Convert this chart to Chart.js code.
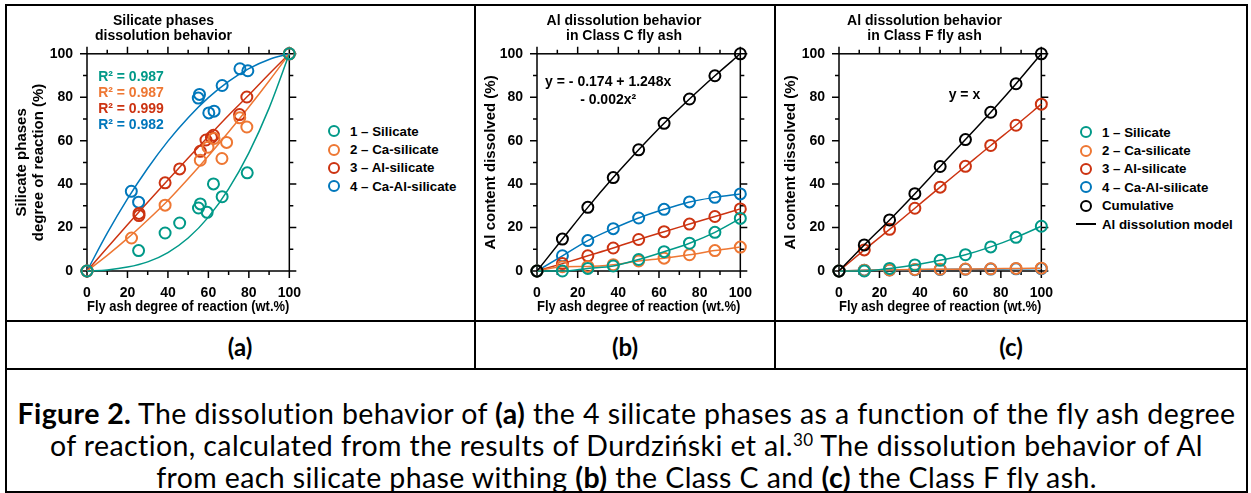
<!DOCTYPE html>
<html>
<head>
<meta charset="utf-8">
<script src="https://cdn.jsdelivr.net/npm/chart.js@4.4.0/dist/chart.umd.min.js"></script>
<style>
  body { margin: 0; background: #fff; width: 1251px; height: 493px; position: relative; overflow: hidden; }
  canvas { position: absolute; }
  .rule { position: absolute; background: #000; }
  .legend { position: absolute; font: bold 13.3px "Liberation Sans", Arial, sans-serif; color: #000; }
  .legend .item { height: 18.4px; display: flex; align-items: center; white-space: nowrap; }
  .legend .dot { box-sizing: border-box; width: 12px; height: 12px; border: 2px solid; border-radius: 50%; margin-right: 10px; }
  .legend .dash { width: 20px; height: 0; border-top: 2px solid #000; margin-left: -4px; margin-right: 6px; }
  .panel-label { position: absolute; top: 330px; width: 200px; text-align: center; font: bold 24px Lato, sans-serif; line-height: 34px; }
  .caption { position: absolute; left: 7px; width: 1239px; top: 397px; text-align: center;
             font-family: Lato, sans-serif; font-size: 28.5px; letter-spacing: 0.4px; line-height: 32px; white-space: nowrap; }
  .caption sup { font-size: 17px; line-height: 0; }
</style>
</head>
<body>

<div class="rule" style="left:5px;top:4px;width:1243px;height:2px"></div>
<div class="rule" style="left:5px;top:4px;width:2px;height:489px"></div>
<div class="rule" style="left:1246px;top:4px;width:2px;height:489px"></div>
<div class="rule" style="left:5px;top:491px;width:1243px;height:2px"></div>
<div class="rule" style="left:5px;top:320px;width:1243px;height:2px"></div>
<div class="rule" style="left:5px;top:368px;width:1243px;height:2px"></div>
<div class="rule" style="left:474px;top:4px;width:2px;height:366px"></div>
<div class="rule" style="left:774px;top:4px;width:2px;height:366px"></div>

<canvas id="chartA" width="303" height="314" style="left:12px;top:6px"></canvas>
<canvas id="chartB" width="284" height="314" style="left:482px;top:6px"></canvas>
<canvas id="chartC" width="285" height="314" style="left:782px;top:6px"></canvas>

<div class="legend" id="legendA" style="left:328px;top:122px"></div>
<div class="legend" id="legendC" style="left:1080px;top:123px"></div>

<div class="panel-label" style="left:140px">(a)</div>
<div class="panel-label" style="left:525px">(b)</div>
<div class="panel-label" style="left:911px">(c)</div>

<div class="caption">
  <b>Figure 2.</b> The dissolution behavior of <b>(a)</b> the 4 silicate phases as a function of the fly ash degree<br>
  of reaction, calculated from the results of Durdziński et al.<sup>30</sup> The dissolution behavior of Al<br>
  from each silicate phase withing <b>(b)</b> the Class C and <b>(c)</b> the Class F fly ash.
</div>

<script>
const seriesNames = ['1 – Silicate', '2 – Ca-silicate', '3 – Al-silicate', '4 – Ca-Al-silicate'];
const seriesColors = ['#009988', '#EE7733', '#CC3311', '#0077BB'];

// (a) measured points for each silicate phase
const silicateX = [0, 25.5, 38.6, 45.8, 55.1, 56.0, 59.4, 62.5, 66.8, 79.2, 100];
const silicateY = [0, 9.4, 17.5, 22.1, 29.0, 30.9, 27.0, 40.1, 34.2, 45.2, 100];
const caSilicateX = [0, 22.0, 38.6, 56.0, 59.8, 62.8, 66.7, 69.0, 75.5, 79.0, 100];
const caSilicateY = [0, 15.2, 30.3, 51.0, 57.0, 61.0, 51.8, 59.2, 70.5, 66.3, 100];
const alSilicateX = [0, 25.7, 25.7, 38.6, 45.8, 56.0, 58.8, 61.5, 62.5, 75.4, 79.0, 100];
const alSilicateY = [0, 25.5, 26.5, 40.6, 47.0, 55.1, 60.3, 61.5, 62.5, 72.0, 80.1, 100];
const caAlSilicateX = [0, 21.9, 25.5, 55.0, 55.6, 60.2, 62.8, 66.8, 75.6, 79.5, 100];
const caAlSilicateY = [0, 36.7, 31.7, 79.6, 81.3, 72.8, 73.6, 85.4, 93.1, 92.2, 100];

// (a) fitted curves
const fitX = [0, 10, 20, 30, 40, 50, 60, 70, 80, 90, 100];
const silicateFit = [0, 0.5, 1.8, 4.2, 8.5, 15.2, 24.8, 37.8, 54.4, 75.0, 100];
const caSilicateFit = [0, 7.2, 15.0, 23.5, 32.5, 42.5, 53.0, 64.0, 75.5, 87.5, 100];
const alSilicateFit = [0, 10.7, 21.3, 31.7, 41.9, 52.0, 61.9, 71.7, 81.0, 90.7, 100];
const caAlSilicateFit = [0, 17.4, 33.2, 47.3, 59.8, 70.6, 79.8, 87.3, 93.2, 97.4, 100];
const r2Labels = ['R² = 0.987', 'R² = 0.987', 'R² = 0.999', 'R² = 0.982'];

// (b) and (c) Al dissolved vs fly ash degree of reaction
const stepX = [0, 12.5, 25, 37.5, 50, 62.5, 75, 87.5, 100];
const classCSilicate = [0, 0, 1.2, 2.3, 5.3, 8.9, 12.8, 17.8, 24.2];
const classCCaSilicate = [0, 2.0, 2.1, 2.9, 4.6, 5.9, 7.5, 9.4, 11.0];
const classCAlSilicate = [0, 3.4, 7.0, 10.6, 14.5, 18.1, 21.6, 25.1, 28.6];
const classCCaAlSilicate = [0, 7.0, 14.0, 19.5, 24.4, 28.4, 31.8, 33.9, 35.5];
const classCCumulative = [0, 14.7, 29.3, 43.0, 55.8, 68.0, 79.2, 89.9, 100];
const classFSilicate = [0, 0, 1.2, 2.8, 4.9, 7.5, 11.1, 15.5, 20.6];
const classFCaSilicate = [0, 0.3, 0.5, 0.7, 0.8, 0.9, 1.0, 1.2, 1.3];
const classFAlSilicate = [0, 9.7, 19.2, 28.9, 38.6, 48.2, 57.8, 67.1, 76.8];
const classFCaAlSilicate = [0, 0.4, 0.5, 0.6, 0.7, 0.8, 0.9, 1.0, 1.1];
const classFCumulative = [0, 12.0, 23.5, 35.6, 48.1, 60.5, 73.1, 86.2, 100];

const FONT = '"Liberation Sans", Arial, sans-serif';
Chart.defaults.font.family = FONT;
Chart.defaults.font.size = 14;
Chart.defaults.font.weight = 'bold';
Chart.defaults.color = '#000';

function pairs(xs, ys) {
  return xs.map((x, i) => ({ x: x, y: ys[i] }));
}

function pointSet(label, xs, ys, color, withLine) {
  return {
    label: label,
    data: pairs(xs, ys),
    showLine: withLine,
    borderColor: color,
    borderWidth: 1.5,
    cubicInterpolationMode: 'monotone',
    pointRadius: 5.5,
    pointBorderWidth: 2,
    pointBackgroundColor: 'rgba(0,0,0,0)',
    pointBorderColor: color,
    clip: false
  };
}

function fitSet(xs, ys, color) {
  return {
    data: pairs(xs, ys),
    showLine: true,
    borderColor: color,
    borderWidth: 1.5,
    cubicInterpolationMode: 'monotone',
    pointRadius: 0,
    clip: false
  };
}

// box around the plot with small ticks every 10 on all four sides
const frameTicks = {
  id: 'frameTicks',
  beforeDatasetsDraw(chart) {
    const { ctx, chartArea: a } = chart;
    const xs = chart.scales.x, ys = chart.scales.y;
    ctx.save();
    ctx.strokeStyle = '#000';
    ctx.lineWidth = 1.5;
    ctx.strokeRect(a.left, a.top, a.right - a.left, a.bottom - a.top);
    ctx.beginPath();
    for (let v = 0; v <= 100; v += 10) {
      const len = v % 20 === 0 ? 7 : 4;
      const px = xs.getPixelForValue(v), py = ys.getPixelForValue(v);
      ctx.moveTo(px, a.bottom); ctx.lineTo(px, a.bottom + len);
      ctx.moveTo(px, a.top); ctx.lineTo(px, a.top - len);
      ctx.moveTo(a.left, py); ctx.lineTo(a.left - len, py);
      ctx.moveTo(a.right, py); ctx.lineTo(a.right + len, py);
    }
    ctx.stroke();
    ctx.restore();
  }
};

// text notes placed in data coordinates
const notes = {
  id: 'notes',
  afterDatasetsDraw(chart, args, opts) {
    const { ctx } = chart;
    const xs = chart.scales.x, ys = chart.scales.y;
    ctx.save();
    ctx.textBaseline = 'middle';
    (opts.items || []).forEach(n => {
      ctx.font = 'bold ' + (n.size || 14) + 'px ' + FONT;
      ctx.fillStyle = n.color || '#000';
      ctx.textAlign = n.align || 'center';
      ctx.fillText(n.text, xs.getPixelForValue(n.x), ys.getPixelForValue(n.y));
    });
    ctx.restore();
  }
};

function makeChart(id, title, yTitle, yTitlePad, yWidth, datasets, noteItems) {
  return new Chart(document.getElementById(id), {
    type: 'scatter',
    data: { datasets: datasets },
    options: {
      responsive: false,
      animation: false,
      devicePixelRatio: 1,
      plugins: {
        legend: { display: false },
        tooltip: { enabled: false },
        title: { display: true, text: title, color: '#000',
                 font: { size: 14, weight: 'bold', lineHeight: 1.1 },
                 padding: { top: 7, bottom: 10 } },
        notes: { items: noteItems }
      },
      scales: {
        x: {
          type: 'linear', min: 0, max: 100,
          grid: { display: false, drawTicks: false },
          border: { display: false },
          ticks: { stepSize: 20, padding: 14, color: '#000', font: { size: 14, weight: 'bold' } },
          title: { display: true, text: 'Fly ash degree of reaction (wt.%)', color: '#000',
                   font: { size: 15, weight: 'bold', lineHeight: 1.1 }, padding: { top: 0, bottom: 5 } },
          afterFit: s => { s.height = 49; }
        },
        y: {
          type: 'linear', min: 0, max: 100,
          grid: { display: false, drawTicks: false },
          border: { display: false },
          ticks: { stepSize: 20, padding: 14, color: '#000', font: { size: 14, weight: 'bold' } },
          title: { display: true, text: yTitle, color: '#000',
                   font: { size: 15, weight: 'bold', lineHeight: 1.1 }, padding: { top: yTitlePad, bottom: 0 } },
          afterFit: s => { s.width = yWidth; }
        }
      }
    },
    plugins: [frameTicks, notes]
  });
}

// (a)
const phaseX = [silicateX, caSilicateX, alSilicateX, caAlSilicateX];
const phaseY = [silicateY, caSilicateY, alSilicateY, caAlSilicateY];
const phaseFit = [silicateFit, caSilicateFit, alSilicateFit, caAlSilicateFit];
const setsA = [];
seriesNames.forEach((name, i) => setsA.push(pointSet(name, phaseX[i], phaseY[i], seriesColors[i], false)));
seriesNames.forEach((name, i) => setsA.push(fitSet(fitX, phaseFit[i], seriesColors[i])));
const r2Y = [89.4, 81.8, 74.4, 67.0];
makeChart('chartA', ['Silicate phases', 'dissolution behavior'],
  ['Silicate phases', 'degree of reaction (%)'], 2, 75, setsA,
  r2Labels.map((t, i) => ({ text: t, x: 5.5, y: r2Y[i], color: seriesColors[i], align: 'left', size: 14 })));

// (b)
const classC = [classCSilicate, classCCaSilicate, classCAlSilicate, classCCaAlSilicate];
const setsB = [pointSet('Cumulative', stepX, classCCumulative, '#000', true)];
seriesNames.forEach((name, i) => setsB.push(pointSet(name, stepX, classC[i], seriesColors[i], true)));
makeChart('chartB', ['Al dissolution behavior', 'in Class C fly ash'],
  'Al content dissolved (%)', 1, 55, setsB,
  [{ text: 'y = - 0.174 + 1.248x', x: 35, y: 87.1 }, { text: '- 0.002x²', x: 35, y: 78.8 }]);

// (c)
const classF = [classFSilicate, classFCaSilicate, classFAlSilicate, classFCaAlSilicate];
const setsC = [pointSet('Cumulative', stepX, classFCumulative, '#000', true)];
seriesNames.forEach((name, i) => setsC.push(pointSet(name, stepX, classF[i], seriesColors[i], true)));
makeChart('chartC', ['Al dissolution behavior', 'in Class F fly ash'],
  'Al content dissolved (%)', 1, 57, setsC,
  [{ text: 'y = x', x: 62, y: 81.1 }]);

// legends built from the series lists
function buildLegend(el, names, colors, extras) {
  names.forEach((n, i) => {
    el.insertAdjacentHTML('beforeend',
      '<div class="item"><span class="dot" style="border-color:' + colors[i] + '"></span>' + n + '</div>');
  });
  (extras || []).forEach(e => el.insertAdjacentHTML('beforeend', e));
}
buildLegend(document.getElementById('legendA'), seriesNames, seriesColors);
buildLegend(document.getElementById('legendC'), seriesNames.concat(['Cumulative']), seriesColors.concat(['#000']),
  ['<div class="item"><span class="dash"></span>Al dissolution model</div>']);
</script>
</body>
</html>
